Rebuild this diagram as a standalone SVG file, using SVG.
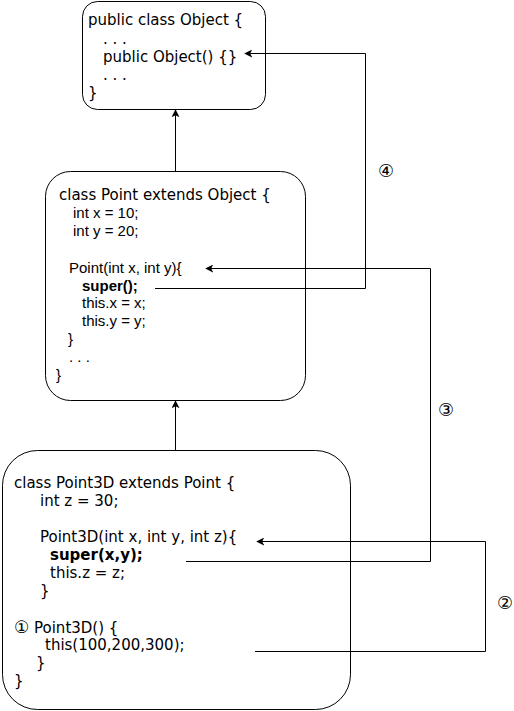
<svg xmlns="http://www.w3.org/2000/svg" width="514" height="711" viewBox="0 0 514 711">
<style>
.box{fill:#fff;stroke:#000;stroke-width:1}
.v{font-family:"DejaVu Sans",Verdana,sans-serif;font-size:15px;fill:#000}
.a{font-family:"Liberation Sans",Arial,sans-serif;font-size:15px;fill:#000}
.b{font-weight:bold}
.n{font-family:"DejaVu Sans",Verdana,sans-serif;font-size:18px;fill:#000}
.c{fill:none;stroke:#000;stroke-width:1}
</style>
<defs>
<marker id="ah" viewBox="0 0 10 10" refX="9" refY="5" markerWidth="8" markerHeight="8" orient="auto" markerUnits="userSpaceOnUse">
<path d="M0,0 L10,5 L0,10 L2.5,5 Z" fill="#000"/>
</marker>
</defs>
<g id="object">
<rect class="box" x="82.5" y="1.5" width="183" height="108" rx="15"/>
<text class="v" x="88" y="25">public class Object {</text>
<text class="v" x="103" y="44">. . .</text>
<text class="v" x="103" y="62">public Object() {}</text>
<text class="v" x="103" y="80">. . .</text>
<text class="v" x="88" y="98">}</text>
</g>
<g id="point">
<rect class="box" x="45.5" y="171.5" width="260" height="229" rx="25"/>
<text class="v" x="59" y="200">class Point extends Object {</text>
<text class="a" x="73" y="218">int x = 10;</text>
<text class="a" x="73" y="236">int y = 20;</text>
<text class="a" x="69" y="273">Point(int x, int y){</text>
<text class="a b" x="82" y="291">super();</text>
<text class="a" x="82" y="308">this.x = x;</text>
<text class="a" x="82" y="326">this.y = y;</text>
<text class="a" x="68" y="344">}</text>
<text class="a" x="69" y="362">. . .</text>
<text class="a" x="56" y="380">}</text>
</g>
<g id="point3d">
<rect class="box" x="2.5" y="450.5" width="348" height="259" rx="35"/>
<text class="v" x="14" y="488">class Point3D extends Point {</text>
<text class="v" x="40" y="506">int z = 30;</text>
<text class="v" x="40" y="542">Point3D(int x, int y, int z){</text>
<text class="v b" x="50" y="560">super(x,y);</text>
<text class="v" x="50" y="578">this.z = z;</text>
<text class="v" x="40" y="596">}</text>
<text class="v" x="14" y="633"><tspan font-size="17">①</tspan> Point3D() {</text>
<text class="v" x="45" y="650">this(100,200,300);</text>
<text class="v" x="36" y="668">}</text>
<text class="v" x="14" y="686">}</text>
</g>
<g id="connectors">
<line class="c" x1="175.5" y1="171" x2="175.5" y2="110" marker-end="url(#ah)"/>
<line class="c" x1="175.5" y1="450" x2="175.5" y2="401" marker-end="url(#ah)"/>
<polyline class="c" points="155,288.5 365.5,288.5 365.5,53.5 245,53.5" marker-end="url(#ah)"/>
<polyline class="c" points="186,561.5 430.5,561.5 430.5,268.5 206,268.5" marker-end="url(#ah)"/>
<polyline class="c" points="255,651.5 485.5,651.5 485.5,541.5 257,541.5" marker-end="url(#ah)"/>
<text class="n" x="386" y="177" text-anchor="middle">④</text>
<text class="n" x="446" y="416" text-anchor="middle">③</text>
<text class="n" x="505" y="609" text-anchor="middle">②</text>
</g>
</svg>
